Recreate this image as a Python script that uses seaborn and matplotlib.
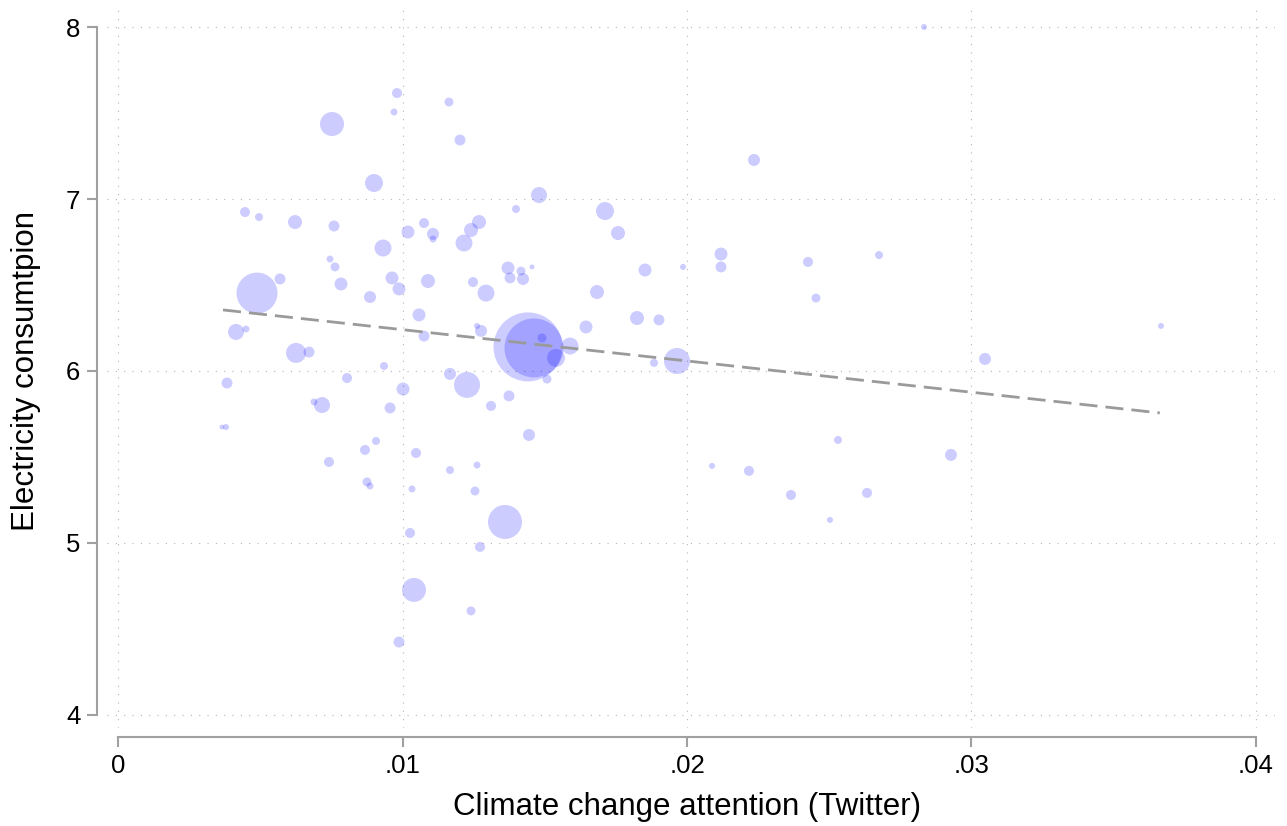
import numpy as np
import pandas as pd
import matplotlib
matplotlib.use("Agg")
import matplotlib.pyplot as plt
import seaborn as sns

# ---------------- data ----------------
attention = [
    0.003656, 0.003796, 0.003831, 0.004148, 0.004499, 0.004886, 0.004464, 0.004956,
    0.005694, 0.006221, 0.006257, 0.006714, 0.007522, 0.007592, 0.007452, 0.007627,
    0.007838, 0.008858, 0.008998, 0.009315, 0.009631, 0.009877, 0.009807, 0.009701,
    0.010193, 0.010756, 0.011072, 0.011072, 0.010896, 0.010580, 0.010756, 0.009350,
    0.008049, 0.007170, 0.006889, 0.010018, 0.009561, 0.009069, 0.008682, 0.007417,
    0.010475, 0.008752, 0.008858, 0.010334, 0.010264, 0.010404, 0.009877, 0.011670,
    0.012267, 0.013743, 0.013111, 0.014446, 0.012619, 0.012548, 0.013603, 0.012724,
    0.012408, 0.011670, 0.015079, 0.011634, 0.012021, 0.014798, 0.013989, 0.012689,
    0.012408, 0.012162, 0.017118, 0.017575, 0.013708, 0.014165, 0.014552, 0.013779,
    0.014236, 0.012478, 0.012935, 0.018524, 0.019859, 0.016837, 0.018243, 0.019016,
    0.016450, 0.012619, 0.012759, 0.014411, 0.014622, 0.014903, 0.015395, 0.015888,
    0.019649, 0.018840, 0.028330, 0.022355, 0.021195, 0.021195, 0.024253, 0.026749,
    0.024534, 0.030475, 0.025308, 0.020879, 0.022179, 0.029279, 0.023655, 0.026327,
    0.025026, 0.036661,
]
electricity = [
    5.674, 5.674, 5.930, 6.227, 6.244, 6.453, 6.924, 6.895,
    6.535, 6.866, 6.105, 6.110, 7.436, 6.843, 6.651, 6.605,
    6.506, 6.430, 7.093, 6.715, 6.541, 6.477, 7.616, 7.506,
    6.808, 6.860, 6.797, 6.767, 6.523, 6.326, 6.203, 6.029,
    5.959, 5.802, 5.820, 5.895, 5.785, 5.593, 5.541, 5.471,
    5.523, 5.355, 5.331, 5.314, 5.058, 4.727, 4.424, 5.983,
    5.919, 5.855, 5.797, 5.628, 5.453, 5.302, 5.122, 4.977,
    4.605, 5.424, 5.953, 7.564, 7.343, 7.023, 6.942, 6.866,
    6.820, 6.744, 6.930, 6.802, 6.599, 6.581, 6.605, 6.541,
    6.535, 6.517, 6.453, 6.587, 6.605, 6.459, 6.308, 6.297,
    6.256, 6.262, 6.233, 6.140, 6.134, 6.192, 6.076, 6.145,
    6.058, 6.047, 8.000, 7.227, 6.680, 6.605, 6.634, 6.674,
    6.424, 6.070, 5.599, 5.448, 5.419, 5.512, 5.279, 5.291,
    5.134, 6.262,
]
weight = [
    6, 9, 30, 64, 12, 420, 25, 16,
    30, 49, 100, 30, 144, 30, 12, 20,
    42, 36, 81, 72, 42, 42, 25, 12,
    42, 25, 36, 12, 49, 42, 30, 16,
    25, 64, 12, 42, 30, 16, 25, 25,
    25, 20, 12, 12, 25, 144, 30, 36,
    169, 30, 25, 36, 12, 20, 289, 25,
    20, 16, 20, 20, 30, 64, 16, 49,
    49, 72, 81, 49, 42, 20, 6, 30,
    36, 25, 72, 42, 9, 49, 49, 30,
    42, 9, 36, 1190, 870, 20, 81, 72,
    169, 16, 9, 36, 42, 30, 25, 16,
    20, 36, 16, 9, 25, 36, 25, 25,
    9, 9,
]
# fitted line (end points)
fit_x = [0.00369, 0.03662]
fit_y = [6.355, 5.756]

x_ticks = [0, 0.01, 0.02, 0.03, 0.04]
x_tick_labels = ["0", ".01", ".02", ".03", ".04"]
y_ticks = [4, 5, 6, 7, 8]
y_tick_labels = ["4", "5", "6", "7", "8"]

x_label = "Climate change attention (Twitter)"
y_label = "Electricity consumtpion"

# ---------------- style ----------------
sns.set_style("white")
plt.rcParams['font.family'] = ['Liberation Sans', 'DejaVu Sans']

W, H = 1287, 826
fig = plt.figure(figsize=(W / 100, H / 100), dpi=100)
ax = fig.add_axes([107 / W, 98 / H, 1168 / W, 718 / H])

df = pd.DataFrame({"attention": attention, "electricity": electricity, "weight": weight})
k = 1.44 ** 2  # px-radius^2 -> points^2 (diameter)
sns.scatterplot(
    data=df, x="attention", y="electricity", size="weight",
    sizes=(k * min(weight), k * max(weight)),
    size_norm=(min(weight), max(weight)),
    color="#0000ff", alpha=0.2, linewidth=0, legend=False, ax=ax, zorder=3,
)

sns.lineplot(x=fit_x, y=fit_y, color="#9a9a9a", linewidth=2.0, ax=ax, zorder=4)
ax.lines[-1].set_dashes([6.5, 2.9])

ax.set_xlim(-0.000387, 0.040668)
ax.set_ylim(3.924, 8.099)

ax.set_xticks(x_ticks)
ax.set_xticklabels(x_tick_labels)
ax.set_yticks(y_ticks)
ax.set_yticklabels(y_tick_labels)

ax.grid(True, color="#b4b4b4", linestyle=(0, (1, 6.5)), linewidth=0.8, zorder=0)
ax.set_axisbelow(True)

for s in ["top", "right"]:
    ax.spines[s].set_visible(False)
ax.spines["left"].set_position(("outward", 7.2))
ax.spines["left"].set_bounds(4, 8)
ax.spines["bottom"].set_position(("outward", 6.5))
ax.spines["bottom"].set_bounds(0, 0.04)
for s in ["left", "bottom"]:
    ax.spines[s].set_color("#a0a0a0")
    ax.spines[s].set_linewidth(1.5)

ax.tick_params(axis="both", which="major", direction="out", length=7, width=1.5,
               color="#a0a0a0", labelsize=18.5, pad=5, left=True, bottom=True,
               labelcolor="black")

ax.set_xlabel(x_label, fontsize=22.5, color="black")
ax.set_ylabel(y_label, fontsize=22.5, color="black")
ax.xaxis.set_label_coords(0.4964, -0.089)
ax.yaxis.set_label_coords(-0.0565, 0.4972)

fig.savefig("out.png", dpi=100, facecolor="white")
